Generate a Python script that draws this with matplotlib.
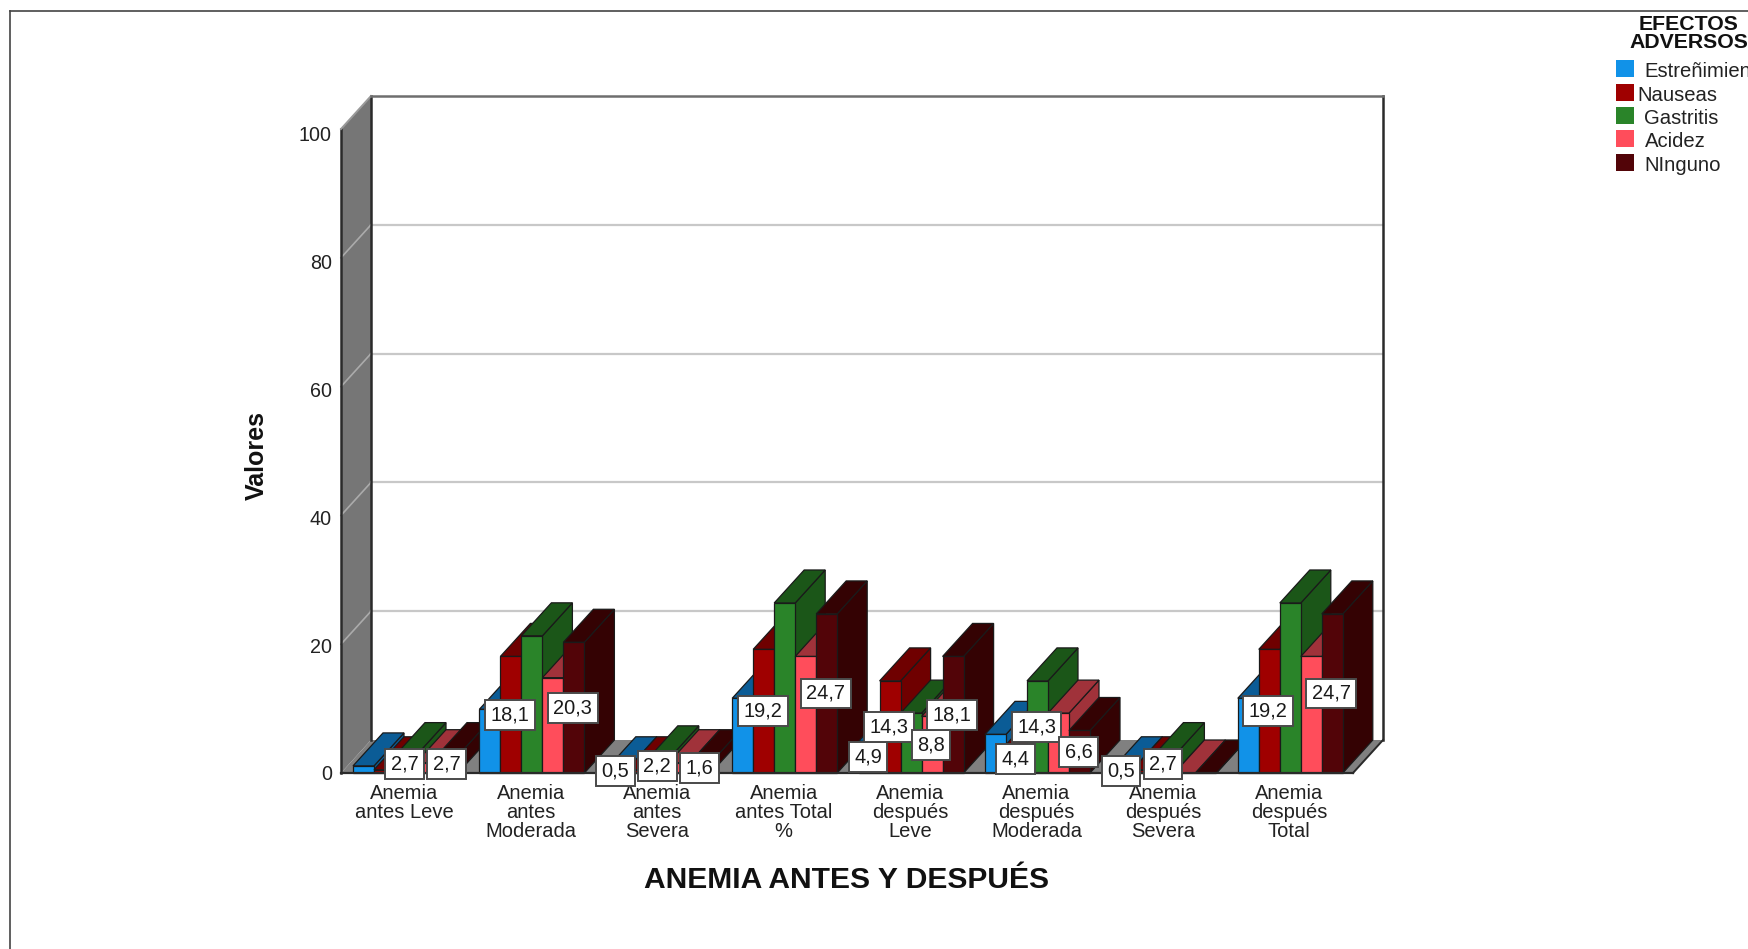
import matplotlib
matplotlib.use('Agg')
import matplotlib.pyplot as plt
from matplotlib.lines import Line2D
from matplotlib.patches import Rectangle
from matplotlib.transforms import ScaledTranslation

plt.rcParams['font.family'] = ['Liberation Sans', 'DejaVu Sans']

categorias = ['Anemia\nantes Leve', 'Anemia\nantes\nModerada', 'Anemia\nantes\nSevera',
              'Anemia\nantes Total\n%', 'Anemia\ndespués\nLeve', 'Anemia\ndespués\nModerada',
              'Anemia\ndespués\nSevera', 'Anemia\ndespués\nTotal']
series = ['Estreñimiento', 'Nauseas', 'Gastritis', 'Acidez', 'NInguno']

estrenimiento = [1.1, 9.9, 0.5, 11.6, 4.9, 6.0, 0.5, 11.6]
nauseas = [0.5, 18.1, 0.5, 19.2, 14.3, 4.4, 0.5, 19.2]
gastritis = [2.7, 21.3, 2.2, 26.4, 9.3, 14.3, 2.7, 26.4]
acidez = [1.6, 14.8, 1.6, 18.1, 8.8, 9.3, 0.0, 18.1]
ninguno = [2.7, 20.3, 1.6, 24.7, 18.1, 6.6, 0.0, 24.7]
valores = [estrenimiento, nauseas, gastritis, acidez, ninguno]

# which bars carry a label, per series
con_etiqueta = [
    [0, 0, 1, 0, 1, 0, 1, 0],
    [0, 1, 0, 1, 1, 1, 0, 1],
    [1, 0, 1, 0, 0, 1, 1, 0],
    [0, 0, 0, 0, 1, 0, 0, 0],
    [1, 1, 1, 1, 1, 1, 0, 1],
]

frente = ['#1192E8', '#9F0000', '#2A8429', '#FF4D5B', '#520408']
lado = ['#0B5C96', '#6F0000', '#1B5618', '#A0323A', '#340203']
ticks_y = [0, 20, 40, 60, 80, 100]

W, H = 1748, 949
fig = plt.figure(figsize=(W/100, H/100), dpi=100)
fig.patch.set_facecolor('white')

# axes cover the whole box, front plane + depth
paso = 126.4
pxy = 6.44
ax = fig.add_axes([341/W, 1-773/H, (1383-341)/W, (773-96)/H])
ax.set_xlim((341-353)/paso, (1383-353)/paso)
ax.set_ylim(0, 677/pxy)
ax.patch.set_visible(False)
for s in ax.spines.values():
    s.set_visible(False)

dx = 30/paso
dy = 33/pxy
ancho = 21/paso
x0 = (341-353)/paso
x1 = (1353-353)/paso
oscuro = '#2A2A2A'

# side wall, floor
ax.fill([x0, x0+dx, x0+dx, x0], [0, dy, 100+dy, 100], fc='#767676', ec='none', clip_on=False, zorder=0.1)
ax.fill([x0, x0+dx, x1+dx, x1], [0, dy, dy, 0], fc='#808080', ec='none', clip_on=False, zorder=0.1)

for t in ticks_y[1:-1]:
    ax.plot([x0, x0+dx], [t, t+dy], color='#ABABAB', lw=1.2, clip_on=False, zorder=0.2)
    ax.plot([x0+dx, x1+dx], [t+dy, t+dy], color='#C8C8C8', lw=1.6, clip_on=False, zorder=0.2)

ax.plot([x0, x0], [0, 100], color=oscuro, lw=1.8, clip_on=False, zorder=0.3)
ax.plot([x0+dx, x0+dx], [dy, 100+dy], color=oscuro, lw=1.8, clip_on=False, zorder=0.3)
ax.plot([x1+dx, x1+dx], [dy, 100+dy], color=oscuro, lw=1.8, clip_on=False, zorder=0.3)
ax.plot([x0, x0+dx], [100, 100+dy], color='#9A9A9A', lw=1.4, clip_on=False, zorder=0.3)
ax.plot([x0+dx, x1+dx], [100+dy, 100+dy], color='#6E6E6E', lw=1.8, clip_on=False, zorder=0.3)
ax.plot([x1, x1+dx], [0, dy], color=oscuro, lw=1.4, clip_on=False, zorder=0.3)

# bars, left to right so each one hides the side of the previous
for i in range(len(categorias)):
    for j in range(len(series)):
        v = valores[j][i]
        xa = i + j*ancho
        xb = xa + ancho
        ec = '#1A1A1A'
        ax.fill([xb, xb+dx, xb+dx, xb], [0, dy, v+dy, v], fc=lado[j], ec=ec, lw=0.9, clip_on=False)
        ax.fill([xa, xa+dx, xb+dx, xb], [v, v+dy, v+dy, v], fc=lado[j], ec=ec, lw=0.9, clip_on=False)
        ax.fill([xa, xb, xb, xa], [0, 0, v, v], fc=frente[j], ec=ec, lw=0.9, clip_on=False)

ax.plot([x0, x1], [0, 0], color=oscuro, lw=1.6, clip_on=False)

for i in range(len(categorias)):
    for j in range(len(series)):
        if con_etiqueta[j][i]:
            v = valores[j][i]
            ax.text(i + (j+0.5)*ancho - 1/paso, v/2, ('%.1f' % v).replace('.', ','), ha='center', va='center',
                    fontsize=14.4, color='#1A1A1A', zorder=10,
                    bbox=dict(boxstyle='square,pad=0.27', fc='white', ec='#4A4A4A', lw=1.4))

ax.set_yticks(ticks_y)
ax.set_yticklabels([str(t) for t in ticks_y], fontsize=14.2, color='#222222')
ax.tick_params(axis='y', length=0, pad=6.5)
# the numbers sit a bit lower than the ticks further up the axis
for t, lab in zip(ticks_y, ax.get_yticklabels()):
    lab.set_transform(lab.get_transform() + ScaledTranslation(0, -4.5*t/100/100, fig.dpi_scale_trans))
ax.set_xticks([i + 2.5*ancho - 1/paso for i in range(len(categorias))])
ax.set_xticklabels(categorias, fontsize=14.5, color='#222222', linespacing=0.98)
ax.tick_params(axis='x', length=0, pad=8)

fig.text(257/W, 1-456/H, 'Valores', rotation=90, ha='center', va='center',
         fontsize=18, fontweight='bold', color='#111111')
fig.text(846/W, 1-880/H, 'ANEMIA ANTES Y DESPUÉS', ha='center', va='center',
         fontsize=21.6, fontweight='bold', color='#111111')

# outer frame, only top and left are seen
fig.add_artist(Line2D([10/W, 10/W], [0, 1-11/H], color='#444444', lw=1.2))
fig.add_artist(Line2D([10/W, 1], [1-11/H, 1-11/H], color='#444444', lw=1.2))

# legend
fig.text(1689/W, 1-33.5/H, 'EFECTOS\nADVERSOS', ha='center', va='center', fontsize=15.3,
         fontweight='bold', color='#111111', linespacing=1.0)
ley_y = [68, 92, 115, 138, 162]
ley_x = [1644, 1637, 1644, 1645, 1644]
for j in range(len(series)):
    fig.add_artist(Rectangle((1616/W, 1-(ley_y[j]+8.5)/H), 18/W, 17/H, transform=fig.transFigure,
                             fc=frente[j], ec='none'))
    fig.text(ley_x[j]/W, 1-(ley_y[j]+3.5)/H, series[j], ha='left', va='center', fontsize=14.6, color='#222222')

fig.savefig('out.png', dpi=100)
